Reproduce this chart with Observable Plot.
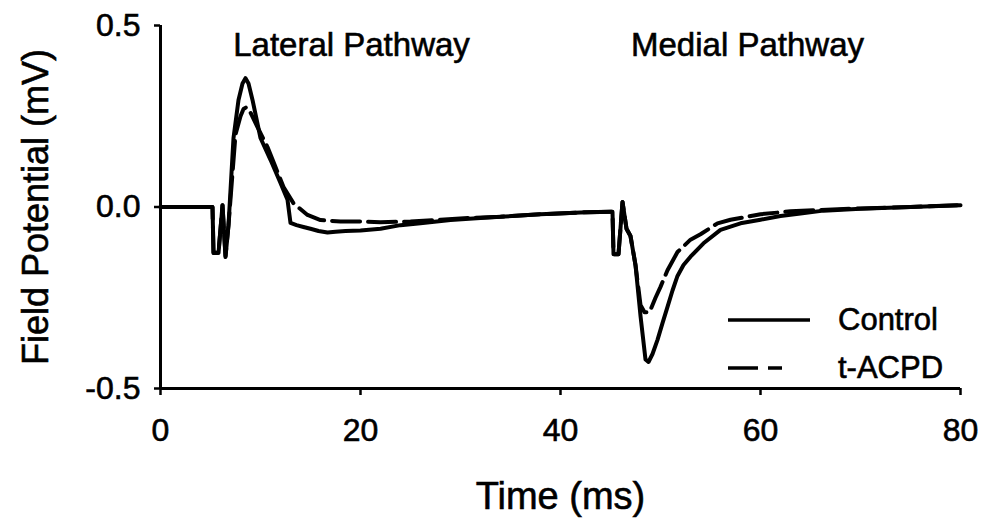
<!DOCTYPE html>
<html><head><meta charset="utf-8">
<script src="https://cdn.jsdelivr.net/npm/d3@7"></script>
<script src="https://cdn.jsdelivr.net/npm/@observablehq/plot@0.6"></script>
<style>
html,body{margin:0;padding:0;background:#fff;}
#wrap{position:relative;width:985px;height:522px;}
#wrap svg text{stroke:#000;stroke-width:0.6px;}
#legend{position:absolute;left:728px;top:296px;font-family:"Liberation Sans",Arial,sans-serif;font-size:31px;color:#000;-webkit-text-stroke:0.6px #000;}
.row{display:flex;align-items:center;height:48px;}
.row svg{width:110px;height:10px;flex:none;}
</style></head><body><div id="wrap"></div>
<script>
const seriesNames = ["Control", "t-ACPD"];
const controlTime = [0,5.2,5.3,5.8,6.2,6.5,6.8,7.3,7.8,8.2,8.5,8.8,9.2,10,11,12,12.7,13,13.6,14.3,15,15.8,16.7,17.5,18.5,20,22,24,26,29,32,34,38,42,45,45.2,45.3,45.8,46.2,46.6,47,47.5,48,48.5,48.8,49.2,49.7,50.2,50.7,51.2,51.7,52.3,53,54.3,56,58,60,62,64,66.3,70,75,80];
const controlValue = [0,0,-0.127,-0.127,0.005,-0.138,-0.05,0.19,0.295,0.34,0.355,0.34,0.295,0.19,0.13,0.066,0.02,-0.044,-0.05,-0.055,-0.06,-0.066,-0.07,-0.068,-0.066,-0.065,-0.06,-0.05,-0.045,-0.036,-0.03,-0.027,-0.02,-0.015,-0.013,-0.013,-0.13,-0.13,0.014,-0.06,-0.08,-0.16,-0.3,-0.42,-0.427,-0.405,-0.366,-0.32,-0.275,-0.23,-0.19,-0.16,-0.137,-0.1,-0.063,-0.045,-0.035,-0.025,-0.018,-0.01,-0.005,0,0.005];
const acpdTime = [0,5.2,5.3,5.8,6.2,6.5,6.8,7.5,8,8.3,8.6,9,9.7,10.7,11.5,12.3,13.3,14.7,16,18,20,22,25,28,31,34,38,42,45,45.2,45.3,45.8,46.2,46.6,47,47.5,48,48.4,48.9,49.5,50,50.7,51.7,53,54,55.7,57,60,63,66,70,75,80];
const acpdValue = [0,0,-0.125,-0.125,0.005,-0.135,-0.05,0.2,0.25,0.27,0.275,0.26,0.22,0.165,0.11,0.055,0.01,-0.022,-0.036,-0.04,-0.04,-0.042,-0.04,-0.035,-0.03,-0.027,-0.02,-0.015,-0.013,-0.013,-0.13,-0.13,0.014,-0.06,-0.08,-0.16,-0.27,-0.29,-0.29,-0.25,-0.22,-0.174,-0.124,-0.09,-0.075,-0.045,-0.035,-0.02,-0.012,-0.008,-0.004,0,0.005];
const xTicks = [0, 20, 40, 60, 80];
const yTicks = [-0.5, 0, 0.5];
const pathwayLabels = ["Lateral Pathway", "Medial Pathway"];
const xTitle = "Time (ms)";
const yTitle = "Field Potential (mV)";

const FONT = '"Liberation Sans", Arial, sans-serif';
const control = controlTime.map((t, i) => ({t, v: controlValue[i]}));
const acpd = acpdTime.map((t, i) => ({t, v: acpdValue[i]}));

const chart = Plot.plot({
  width: 985, height: 522,
  marginLeft: 160, marginRight: 25, marginTop: 25, marginBottom: 134,
  x: {domain: [0, 80]},
  y: {domain: [-0.5, 0.5]},
  style: {fontFamily: FONT, fontSize: "31px", color: "#000", background: "#fff", overflow: "visible"},
  marks: [
    Plot.axisX({ticks: xTicks, tickSize: 7, tickPadding: 23, label: null, tickFormat: d => String(d), strokeWidth: 2.5, fontSize: 32}),
    Plot.axisY({ticks: yTicks, tickSize: 6, tickPadding: 14, label: null, tickFormat: d => d.toFixed(1), strokeWidth: 2.5, fontSize: 32}),
    Plot.ruleX([0], {strokeWidth: 3}),
    Plot.ruleY([-0.5], {strokeWidth: 3}),
    Plot.line(acpd, {x: "t", y: "v", stroke: "#000", strokeWidth: 4, strokeDasharray: "28,8", strokeLinejoin: "round"}),
    Plot.line(control, {x: "t", y: "v", stroke: "#000", strokeWidth: 4, strokeLinejoin: "round"}),
    Plot.text([pathwayLabels[0]], {x: 19.1, y: 0.446, fontSize: 33, textAnchor: "middle"}),
    Plot.text([pathwayLabels[1]], {x: 58.7, y: 0.446, fontSize: 33, textAnchor: "middle"}),
    Plot.text([xTitle], {frameAnchor: "bottom", dy: 108, fontSize: 38, lineAnchor: "middle", textAnchor: "middle"}),
    Plot.text([yTitle], {frameAnchor: "left", dx: -124, rotate: -90, fontSize: 36, lineAnchor: "middle", textAnchor: "middle"})
  ]
});
const wrap = document.getElementById("wrap");
wrap.appendChild(chart);
const legend = document.createElement("div");
legend.id = "legend";
legend.innerHTML = `
<div class="row"><svg><line x1="0" x2="82" y1="5" y2="5" stroke="#000" stroke-width="3.5"/></svg><span>${seriesNames[0]}</span></div>
<div class="row"><svg><line x1="0" x2="54" y1="5" y2="5" stroke="#000" stroke-width="3.5" stroke-dasharray="30,10"/></svg><span>${seriesNames[1]}</span></div>`;
wrap.appendChild(legend);
</script></body></html>
